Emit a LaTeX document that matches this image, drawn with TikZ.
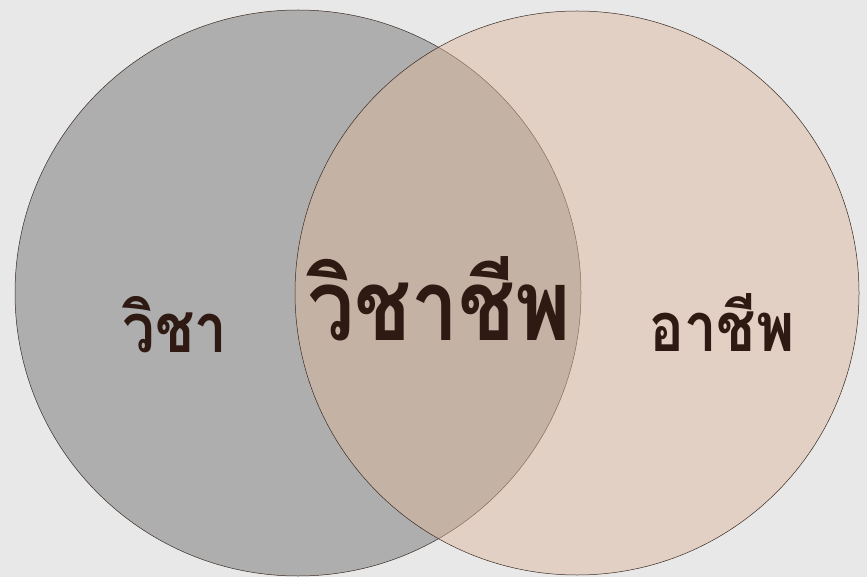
\documentclass[tikz,border=0pt]{standalone}
\usepackage{fontspec}
\newfontfamily\thaifont[Script=Thai]{Loma}
\definecolor{bgcol}{HTML}{E8E8E8}
\definecolor{leftgray}{HTML}{AEAEAE}
\definecolor{peach}{RGB}{221,183,156}
\definecolor{ringline}{HTML}{3A2A22}
\definecolor{textcol}{HTML}{2E1A12}

\begin{document}
\begin{tikzpicture}[x=1pt,y=-1pt,
    ring/.style={draw=ringline,line width=0.5pt},
    smalltxt/.style={text=textcol,font=\thaifont\bfseries\fontsize{58}{60}\selectfont,anchor=base,transform shape,yscale=1.18},
    bigtxt/.style={text=textcol,font=\thaifont\bfseries\fontsize{84}{86}\selectfont,anchor=base,transform shape,yscale=1.18}]
  \fill[bgcol] (0,0) rectangle (867,577); % 背景
  \useasboundingbox (0,0) rectangle (867,577);

  % 左の円（灰色）
  \fill[leftgray] (298,293) circle[radius=283];
  \draw[ring] (298,293) circle[radius=283];
  % 右の円（半透明）。重なり部分の色はここで決まる
  \fill[peach,fill opacity=0.47] (577,293) circle[radius=282];
  \draw[ring] (577,293) circle[radius=282];

  \node[smalltxt] (vicha) at (175,352) {วิชา};
  \node[bigtxt] (vichacheep) at (439,340) {วิชาชีพ};
  \node[smalltxt] (acheep) at (722,351) {อาชีพ};
\end{tikzpicture}
\end{document}
